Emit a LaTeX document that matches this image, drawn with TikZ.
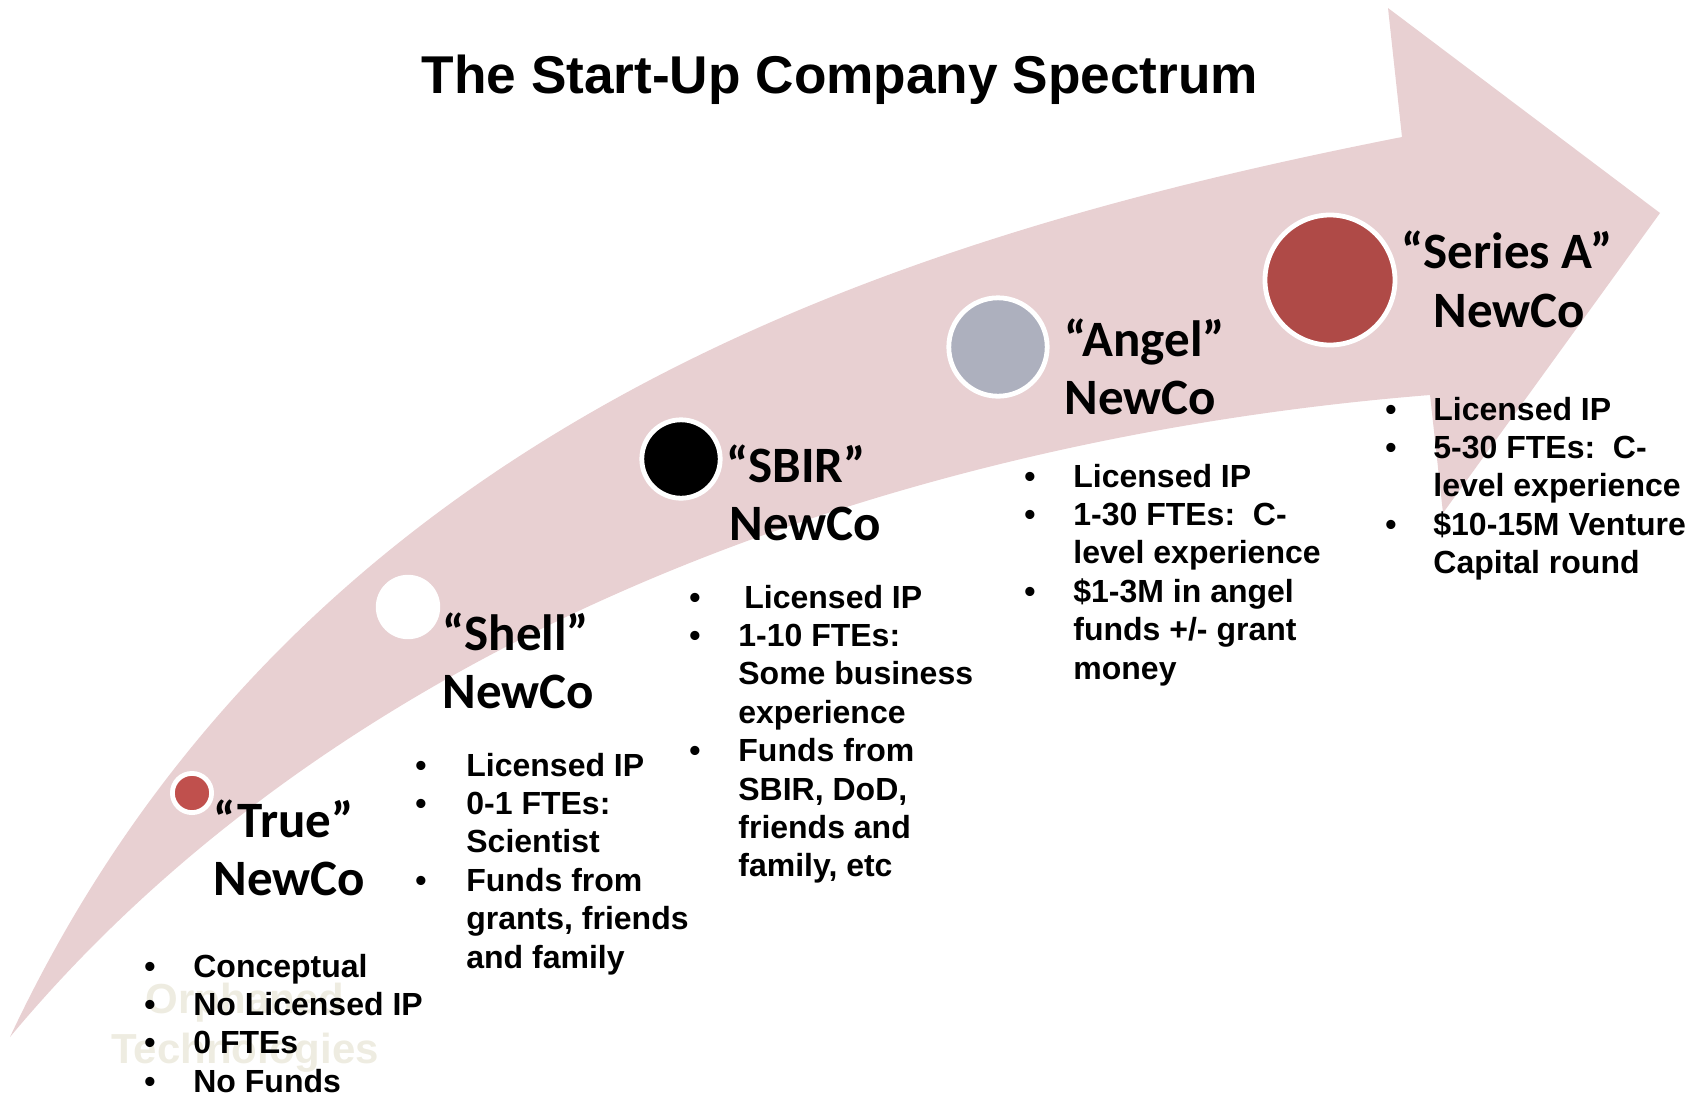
\documentclass[tikz,border=0pt]{standalone}
\usepackage{fontspec}
\setmainfont{Liberation Sans}
\newfontfamily\labelfont{Carlito}
\definecolor{arrowpink}{RGB}{232,208,210}
\definecolor{truered}{RGB}{192,80,77}
\definecolor{angelgrey}{RGB}{173,176,190}
\definecolor{seriesred}{RGB}{175,74,71}
\definecolor{wmark}{RGB}{238,236,225}
\tikzset{
  ring/.style={circle, draw=white, line width=2.4pt, inner sep=0pt, outer sep=0pt},
  stagelabel/.style={anchor=base west, inner sep=0pt, font=\labelfont\bfseries\fontsize{25.5}{30}\selectfont},
  bulletlist/.style={anchor=base west, inner sep=0pt, font=\bfseries\fontsize{16}{19.2}\selectfont},
  watermark/.style={anchor=base, inner sep=0pt, text=wmark, font=\bfseries\fontsize{21}{25}\selectfont},
}
\newcommand{\blist}[2]{\begin{tabular}[t]{@{}p{#1}@{}l@{}}#2\end{tabular}}
\begin{document}
\begin{tikzpicture}[x=0.5pt, y=-0.5pt]
\useasboundingbox (0,0) rectangle (1704,1094);
% curved arrow
\fill[arrowpink] (10,1037) .. controls (300,419) and (902,235.5) .. (1402,137)
  -- (1388,8) -- (1660,213) -- (1443,513) -- (1430,395)
  .. controls (930,435) and (360,617) .. (10,1037) -- cycle;
% title
\node[anchor=base, inner sep=0pt, font=\bfseries\fontsize{26.6}{32}\selectfont] (title) at (840,93) {The Start-Up Company Spectrum};
% circles
\node[ring, fill=truered, minimum size=19.6pt] (ctrue) at (192,793) {};
\node[circle, fill=white, inner sep=0pt, minimum size=32.2pt] (cshell) at (408,607) {};
\node[ring, fill=black, minimum size=39.2pt] (csbir) at (681,459) {};
\node[ring, fill=angelgrey, minimum size=49.2pt] (cangel) at (998,347) {};
\node[ring, fill=seriesred, minimum size=65pt] (cseries) at (1330,280) {};
% watermark
\node[watermark] (wm1) at (245,1013) {Orphaned};
\node[watermark] (wm2) at (245,1063) {Technologies};
% stage labels
\node[stagelabel] (ltrue1) at (213,837) {“True”};
\node[stagelabel] (ltrue2) at (213,895) {NewCo};
\node[stagelabel] (lshell1) at (442,650) {“Shell”};
\node[stagelabel] (lshell2) at (442,708) {NewCo};
\node[stagelabel] (lsbir1) at (726,482) {“SBIR”};
\node[stagelabel] (lsbir2) at (729,540) {NewCo};
\node[stagelabel] (langel1) at (1064,356) {“Angel”};
\node[stagelabel] (langel2) at (1064,414) {NewCo};
\node[stagelabel] (lseries1) at (1401,268) {“Series A”};
\node[stagelabel] (lseries2) at (1433,327) {NewCo};
% bullet lists
\node[bulletlist] (btrue) at (144,977) {\blist{24.5pt}{%
  \textbullet & Conceptual\\
  \textbullet & No Licensed IP\\
  \textbullet & 0 FTEs\\
  \textbullet & No Funds}};
\node[bulletlist] (bshell) at (415,776) {\blist{25.5pt}{%
  \textbullet & Licensed IP\\
  \textbullet & 0-1 FTEs:\\
   & Scientist\\
  \textbullet & Funds from\\
   & grants, friends\\
   & and family}};
\node[bulletlist] (bsbir) at (689,608) {\blist{24.5pt}{%
  \textbullet & \hspace*{3pt}Licensed IP\\
  \textbullet & 1-10 FTEs:\\
   & Some business\\
   & experience\\
  \textbullet & Funds from\\
   & SBIR, DoD,\\
   & friends and\\
   & family, etc}};
\node[bulletlist] (bangel) at (1024,487) {\blist{24.5pt}{%
  \textbullet & Licensed IP\\
  \textbullet & 1-30 FTEs:\ \ C-\\
   & level experience\\
  \textbullet & \$1-3M in angel\\
   & funds +/- grant\\
   & money}};
\node[bulletlist] (bseries) at (1385,420) {\blist{24pt}{%
  \textbullet & Licensed IP\\
  \textbullet & 5-30 FTEs:\ \ C-\\
   & level experience\\
  \textbullet & \$10-15M Venture\\
   & Capital round}};
\end{tikzpicture}
\end{document}
